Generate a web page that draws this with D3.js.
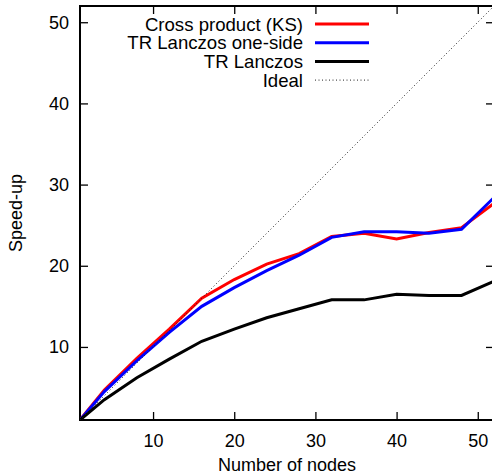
<!DOCTYPE html>
<html>
<head>
<meta charset="utf-8">
<script src="https://cdn.jsdelivr.net/npm/d3@7"></script>
<style>
html,body{margin:0;padding:0;background:#fff;}
svg{display:block;}
text{font-family:"Liberation Sans",Arial,Helvetica,sans-serif;fill:#000;}
</style>
</head>
<body>
<svg id="chart" width="492" height="474"></svg>
<script>
const nodes      = [1, 4, 8, 12, 16, 20, 24, 28, 32, 36, 40, 44, 48, 52];
const crossKS    = [1, 4.7, 8.6, 12.2, 16.0, 18.3, 20.2, 21.5, 23.6, 24.0, 23.3, 24.1, 24.7, 27.7];
const trOneSide  = [1, 4.5, 8.3, 11.8, 15.0, 17.3, 19.4, 21.3, 23.5, 24.2, 24.2, 24.0, 24.5, 28.4];
const trLanczos  = [1, 3.5, 6.2, 8.5, 10.7, 12.2, 13.6, 14.7, 15.8, 15.8, 16.5, 16.35, 16.35, 18.1];
const idealX     = [1, 52];
const xTicks     = [10, 20, 30, 40, 50];
const yTicks     = [10, 20, 30, 40, 50];
const seriesNames = ["Cross product (KS)", "TR Lanczos one-side", "TR Lanczos", "Ideal"];
const xTitle = "Number of nodes";
const yTitle = "Speed-up";

const svg = d3.select("#chart");
const L = 80, T = 6, W = 414, H = 414;
const x = d3.scaleLinear().domain([1, 52]).range([L, L + W]);
const y = d3.scaleLinear().domain([1, 52]).range([T + H, T]);

svg.append("defs").append("clipPath").attr("id","clip")
  .append("rect").attr("x", L).attr("y", T).attr("width", W).attr("height", H);

const tickLen = 8;
const gx = svg.append("g").attr("transform", `translate(0,${T+H})`)
  .call(d3.axisBottom(x).tickValues(xTicks).tickSize(-tickLen).tickPadding(14).tickFormat(d3.format("d")));
const gxt = svg.append("g").attr("transform", `translate(0,${T})`)
  .call(d3.axisTop(x).tickValues(xTicks).tickSize(-tickLen).tickFormat(""));
const gy = svg.append("g").attr("transform", `translate(${L},0)`)
  .call(d3.axisLeft(y).tickValues(yTicks).tickSize(-tickLen).tickPadding(11).tickFormat(d3.format("d")));
const gyr = svg.append("g").attr("transform", `translate(${L+W},0)`)
  .call(d3.axisRight(y).tickValues(yTicks).tickSize(-tickLen).tickFormat(""));
[gx, gxt, gy, gyr].forEach(g => {
  g.select(".domain").remove();
  g.selectAll(".tick line").attr("stroke", "#000").attr("stroke-width", 1.3);
  g.selectAll(".tick text").attr("font-size", 18).attr("font-family", '"Liberation Sans",Arial,sans-serif').attr("fill","#000");
});
gx.selectAll(".tick text").attr("dy", "0.71em");

svg.append("rect").attr("x", L).attr("y", T).attr("width", W).attr("height", H)
  .attr("fill", "none").attr("stroke", "#000").attr("stroke-width", 2);

const plot = svg.append("g").attr("clip-path", "url(#clip)");
const line = d3.line().x(d => x(d[0])).y(d => y(d[1]));
const series = [
  {vals: crossKS, color: "#ff0000"},
  {vals: trOneSide, color: "#0000ff"},
  {vals: trLanczos, color: "#000000"}
];
series.forEach(s => {
  plot.append("path").datum(nodes.map((n, i) => [n, s.vals[i]]))
    .attr("d", line).attr("fill", "none").attr("stroke", s.color)
    .attr("stroke-width", 3).attr("stroke-linejoin", "miter");
});
plot.append("path").datum(idealX.map(v => [v, v]))
  .attr("d", line).attr("fill", "none").attr("stroke", "#222")
  .attr("stroke-width", 1).attr("stroke-dasharray", "1,2.5");

const leg = svg.append("g");
const legColors = ["#ff0000", "#0000ff", "#000000", "#222"];
seriesNames.forEach((name, i) => {
  const ly = 24 + i * 18.7;
  leg.append("text").attr("x", 303).attr("y", ly + 6.5).attr("text-anchor", "end")
    .attr("font-size", 18.6).text(name);
  const ln = leg.append("line").attr("x1", 315).attr("x2", 369).attr("y1", ly).attr("y2", ly)
    .attr("stroke", legColors[i]).attr("stroke-width", i < 3 ? 3 : 1);
  if (i === 3) ln.attr("stroke-dasharray", "1,2.5");
});

svg.append("text").attr("x", 287).attr("y", 471).attr("text-anchor", "middle")
  .attr("font-size", 18).text(xTitle);
svg.append("text").attr("transform", `translate(22,${T + H / 2}) rotate(-90)`)
  .attr("text-anchor", "middle").attr("font-size", 18).text(yTitle);
</script>
</body>
</html>
